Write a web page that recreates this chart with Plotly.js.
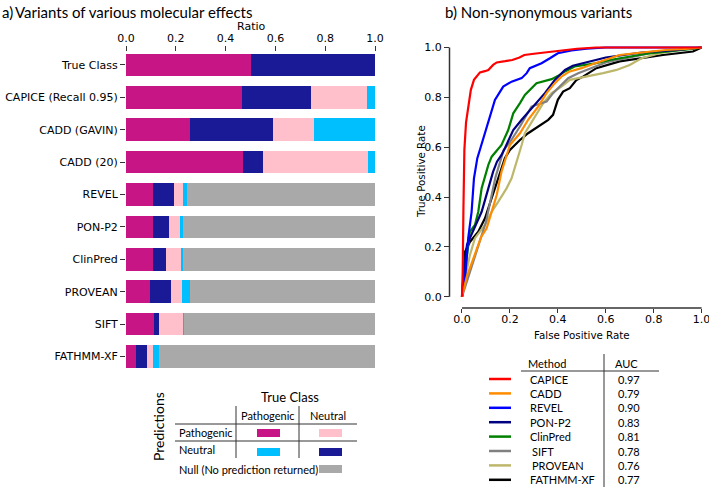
<!DOCTYPE html>
<html>
<head>
<meta charset="utf-8">
<script src="https://cdn.plot.ly/plotly-3.0.1.min.js"></script>
<style>
  html, body { margin: 0; padding: 0; background: white; }
  #chart { width: 709px; height: 487px; }
</style>
</head>
<body>
<div id="chart"></div>
<script>
// a) ratios of predictions per method
const methods = ["True Class", "CAPICE (Recall 0.95)", "CADD (GAVIN)", "CADD (20)", "REVEL",
  "PON-P2", "ClinPred", "PROVEAN", "SIFT", "FATHMM-XF"];
const tpRatio = [0.5, 0.466, 0.257, 0.47, 0.108, 0.107, 0.110, 0.096, 0.114, 0.040];
const tnRatio = [0.5, 0.277, 0.332, 0.079, 0.086, 0.064, 0.052, 0.085, 0.019, 0.043];
const fpRatio = [0, 0.224, 0.166, 0.421, 0.034, 0.047, 0.059, 0.043, 0.095, 0.027];
const fnRatio = [0, 0.033, 0.245, 0.030, 0.016, 0.010, 0.008, 0.032, 0.003, 0.024];
const nullRatio = [0, 0, 0, 0, 0.756, 0.772, 0.771, 0.744, 0.769, 0.866];
const ratioTicks = [0, 0.2, 0.4, 0.6, 0.8, 1.0];

// b) ROC curves (false positive rate / true positive rate)
const rocMethods = ["CAPICE", "CADD", "REVEL", "PON-P2", "ClinPred", "SIFT", "PROVEAN", "FATHMM-XF"];
const rocAuc = ["0.97", "0.79", "0.90", "0.83", "0.81", "0.78", "0.76", "0.77"];
const rocColors = ["#ff0000", "#ff8c00", "#0000ff", "#000080", "#008000", "#808080", "#bdb76b", "#000000"];

const capiceFpr = [0, 0.003, 0.006, 0.01, 0.017, 0.026, 0.037, 0.05, 0.075, 0.095, 0.11, 0.13, 0.145, 0.18, 0.21, 0.24, 0.26, 0.3, 0.35, 0.42, 0.48, 0.56, 1.0];
const capiceTpr = [0, 0.1, 0.35, 0.59, 0.70, 0.76, 0.83, 0.87, 0.90, 0.905, 0.91, 0.93, 0.94, 0.945, 0.95, 0.96, 0.97, 0.975, 0.98, 0.99, 0.995, 1.0, 1.0];

const caddFpr = [0, 0.02, 0.05, 0.08, 0.103, 0.124, 0.145, 0.165, 0.193, 0.2, 0.242, 0.276, 0.318, 0.353, 0.3875, 0.415, 0.45, 0.499, 0.55, 0.6, 0.658, 0.75, 0.85, 0.95, 1.0];
const caddTpr = [0, 0.08, 0.16, 0.24, 0.275, 0.341, 0.408, 0.502, 0.589, 0.609, 0.656, 0.71, 0.763, 0.817, 0.857, 0.883, 0.904, 0.917, 0.935, 0.95, 0.97, 0.98, 0.99, 0.995, 1.0];

const revelFpr = [0, 0.0125, 0.026, 0.04, 0.05, 0.064, 0.078, 0.096, 0.117, 0.1375, 0.172, 0.207, 0.249, 0.27, 0.283, 0.332, 0.367, 0.40, 0.457, 0.52, 0.6, 1.0];
const revelTpr = [0, 0.07, 0.235, 0.34, 0.475, 0.556, 0.6, 0.656, 0.723, 0.79, 0.843, 0.863, 0.877, 0.897, 0.917, 0.937, 0.957, 0.977, 0.988, 0.995, 1.0, 1.0];

const ponFpr = [0, 0.01, 0.021, 0.04, 0.06, 0.082, 0.11, 0.13, 0.146, 0.165, 0.179, 0.214, 0.249, 0.304, 0.346, 0.3875, 0.43, 0.4625, 0.505, 0.6, 0.75, 0.9, 1.0];
const ponTpr = [0, 0.12, 0.21, 0.25, 0.29, 0.341, 0.435, 0.502, 0.542, 0.569, 0.596, 0.669, 0.71, 0.77, 0.817, 0.87, 0.91, 0.927, 0.937, 0.96, 0.98, 0.99, 1.0];

const clinFpr = [0, 0.0125, 0.02, 0.033, 0.054, 0.068, 0.082, 0.11, 0.124, 0.149, 0.165, 0.193, 0.214, 0.242, 0.2625, 0.311, 0.374, 0.408, 0.43, 0.47, 0.55, 0.617, 0.77, 0.97, 1.0];
const clinTpr = [0, 0.1, 0.18, 0.261, 0.288, 0.341, 0.435, 0.529, 0.562, 0.589, 0.609, 0.669, 0.736, 0.777, 0.81, 0.857, 0.873, 0.89, 0.904, 0.924, 0.935, 0.95, 0.975, 0.995, 1.0];

const siftFpr = [0, 0.05, 0.1, 0.14, 0.174, 0.2, 0.242, 0.29, 0.353, 0.38, 0.408, 0.443, 0.485, 0.6, 0.7, 0.8, 0.9, 1.0];
const siftTpr = [0, 0.15, 0.3, 0.48, 0.589, 0.62, 0.683, 0.763, 0.783, 0.817, 0.843, 0.877, 0.897, 0.94, 0.96, 0.98, 0.99, 1.0];

const proveanFpr = [0, 0.013, 0.033, 0.054, 0.096, 0.124, 0.151, 0.186, 0.207, 0.235, 0.249, 0.2625, 0.304, 0.339, 0.374, 0.415, 0.45, 0.49, 0.589, 0.645, 0.7, 0.749, 0.825, 0.964, 1.0];
const proveanTpr = [0, 0.074, 0.167, 0.235, 0.288, 0.341, 0.381, 0.435, 0.475, 0.56, 0.609, 0.656, 0.723, 0.777, 0.817, 0.843, 0.87, 0.877, 0.897, 0.91, 0.93, 0.957, 0.977, 0.998, 1.0];

const fathmmFpr = [0, 0.0125, 0.033, 0.068, 0.096, 0.124, 0.151, 0.179, 0.2, 0.207, 0.242, 0.276, 0.318, 0.36, 0.38, 0.40, 0.422, 0.45, 0.478, 0.505, 0.561, 0.658, 0.839, 0.964, 1.0];
const fathmmTpr = [0, 0.18, 0.22, 0.261, 0.315, 0.395, 0.475, 0.556, 0.589, 0.596, 0.629, 0.656, 0.683, 0.71, 0.73, 0.79, 0.823, 0.837, 0.87, 0.883, 0.917, 0.944, 0.97, 0.984, 1.0];

const rocFpr = [capiceFpr, caddFpr, revelFpr, ponFpr, clinFpr, siftFpr, proveanFpr, fathmmFpr];
const rocTpr = [capiceTpr, caddTpr, revelTpr, ponTpr, clinTpr, siftTpr, proveanTpr, fathmmTpr];
const rocTicks = [0, 0.2, 0.4, 0.6, 0.8, 1.0];

// colours of the prediction classes
const colTP = "#c71585";
const colTN = "#1a1a96";
const colFP = "#ffc0cb";
const colFN = "#00bfff";
const colNull = "#a9a9a9";

const W = 709, H = 487;
const px = (x) => x / W;
const py = (y) => 1 - y / H;

const tickFont = () => ({ family: "DejaVu Sans", size: 11, color: "#000" });
const axisTitleFont = () => ({ family: "DejaVu Sans", size: 10.3, color: "#000" });
const textFont = () => ({ family: "Lato", size: 11, color: "#000" });
const headFont = () => ({ family: "Lato", size: 15, color: "#000" });

function barTrace(vals, color, name) {
  return {
    type: "bar",
    orientation: "h",
    y: methods,
    x: vals,
    name: name,
    width: 0.7,
    marker: { color: color, line: { width: 0 } },
    xaxis: "x",
    yaxis: "y",
    hoverinfo: "x+y",
  };
}

var data = [
  barTrace(tpRatio, colTP, "TP"),
  barTrace(tnRatio, colTN, "TN"),
  barTrace(fpRatio, colFP, "FP"),
  barTrace(fnRatio, colFN, "FN"),
  barTrace(nullRatio, colNull, "Null"),
];

// ROC lines, drawn in reverse so CAPICE lands on top
for (let i = rocMethods.length - 1; i >= 0; i--) {
  data.push({
    type: "scatter",
    mode: "lines",
    x: rocFpr[i],
    y: rocTpr[i],
    name: rocMethods[i],
    line: { color: rocColors[i], width: 2.2 },
    xaxis: "x2",
    yaxis: "y2",
  });
}

var annotations = [
  { text: "a)", x: px(0), y: py(12), xanchor: "left", font: headFont() },
  { text: "Variants of various molecular effects", x: px(13), y: py(12), xanchor: "left", font: headFont() },
  { text: "b) Non-synonymous variants", x: px(443), y: py(12), xanchor: "left", font: headFont() },
  { text: "Ratio", x: px(251), y: py(26), font: tickFont() },
  { text: "True Positive Rate", x: px(421), y: py(172), textangle: -90, font: axisTitleFont() },
  { text: "False Positive Rate", x: px(582), y: py(335), font: axisTitleFont() },
  // left legend table
  { text: "True Class", x: px(290), y: py(397), font: { family: "Lato", size: 13, color: "#000" } },
  { text: "Predictions", x: px(158), y: py(427), textangle: -90, font: { family: "Lato", size: 14, color: "#000" } },
  { text: "Pathogenic", x: px(268), y: py(415), font: textFont() },
  { text: "Neutral", x: px(328), y: py(415), font: textFont() },
  { text: "Pathogenic", x: px(177), y: py(432), xanchor: "left", font: textFont() },
  { text: "Neutral", x: px(177), y: py(449), xanchor: "left", font: textFont() },
  { text: "Null (No prediction returned)", x: px(177), y: py(469), xanchor: "left", font: textFont() },
  // right legend table
  { text: "Method", x: px(547), y: py(363), font: textFont() },
  { text: "AUC", x: px(626), y: py(363), font: textFont() },
];

rocMethods.forEach((m, i) => {
  const rowY = 379 + i * 14.4;
  const indent = (m === "SIFT" || m === "PROVEAN") ? 530 : 528;
  annotations.push({ text: m, x: px(indent), y: py(rowY), xanchor: "left", font: textFont() });
  annotations.push({ text: rocAuc[i], x: px(616), y: py(rowY), xanchor: "left", font: textFont() });
});

annotations.forEach((a) => {
  a.xref = "paper";
  a.yref = "paper";
  a.showarrow = false;
  if (!a.xanchor) a.xanchor = "center";
  a.yanchor = "middle";
});

function swatch(x0, y0, x1, y1, color) {
  return { type: "rect", xref: "paper", yref: "paper", x0: px(x0), x1: px(x1), y0: py(y0), y1: py(y1),
    fillcolor: color, line: { width: 0 } };
}
function hline(x0, x1, y, color, w) {
  return { type: "line", xref: "paper", yref: "paper", x0: px(x0), x1: px(x1), y0: py(y), y1: py(y),
    line: { color: color, width: w } };
}
function vline(x, y0, y1) {
  return { type: "line", xref: "paper", yref: "paper", x0: px(x), x1: px(x), y0: py(y0), y1: py(y1),
    line: { color: "#333", width: 1 } };
}

var shapes = [
  vline(236, 406, 458),
  vline(299, 406, 458),
  hline(175, 357, 424, "#333", 1),
  hline(175, 357, 441, "#333", 1),
  swatch(257, 429, 280, 437, colTP),
  swatch(319, 429, 342, 437, colFP),
  swatch(257, 448, 280, 456, colFN),
  swatch(319, 448, 342, 456, colTN),
  swatch(319, 465, 342, 473, colNull),
  vline(604, 354, 487),
  hline(521, 659, 371, "#333", 1),
];
rocColors.forEach((c, i) => {
  shapes.push(hline(489, 511, 379 + i * 14.4, c, 2.5));
});

// offset spines of the ROC plot, spanning 0..1 only
shapes.push({ type: "line", xref: "x2", yref: "paper", x0: 0, x1: 1, y0: py(308), y1: py(308), line: { color: "#333", width: 1.5 } });
shapes.push({ type: "line", xref: "paper", yref: "y2", x0: px(449.5), x1: px(449.5), y0: 0, y1: 1, line: { color: "#333", width: 1.5 } });

function axisBase() {
  return {
    ticks: "outside",
    ticklen: 5,
    tickcolor: "#333",
    showgrid: false,
    zeroline: false,
    showline: false,
    tickfont: tickFont(),
    fixedrange: true,
  };
}

var layout = {
  width: W,
  height: H,
  margin: { l: 0, r: 0, t: 0, b: 0 },
  paper_bgcolor: "white",
  plot_bgcolor: "white",
  showlegend: false,
  barmode: "stack",
  xaxis: Object.assign(axisBase(), {
    domain: [px(126), px(375)],
    anchor: "y",
    side: "top",
    range: [0, 1],
    tickvals: ratioTicks,
    tickformat: ".1f",
    ticklabeloverflow: "allow",
  }),
  yaxis: Object.assign(axisBase(), {
    domain: [py(369.5), py(52)],
    anchor: "x",
    type: "category",
    categoryorder: "array",
    categoryarray: methods,
    range: [9.4, -0.4],
  }),
  xaxis2: Object.assign(axisBase(), {
    domain: [px(450), px(704)],
    anchor: "y2",
    range: [-0.05, 1.01],
    tickvals: rocTicks,
    tickformat: ".1f",
    ticklen: 4,
    ticklabelstandoff: -3,
    ticklabeloverflow: "allow",
  }),
  yaxis2: Object.assign(axisBase(), {
    domain: [py(308), py(45)],
    anchor: "x2",
    range: [-0.045, 1.01],
    tickvals: rocTicks,
    tickformat: ".1f",
  }),
  annotations: annotations,
  shapes: shapes,
};

var config = { displayModeBar: false, staticPlot: true };

Plotly.newPlot(document.getElementById("chart"), data, layout, config);
</script>
</body>
</html>
